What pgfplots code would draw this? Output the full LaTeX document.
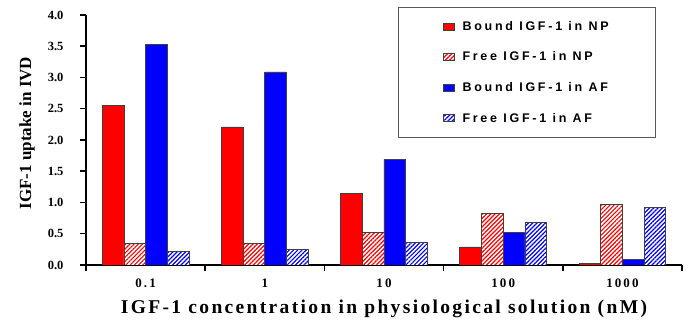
\documentclass[border=0pt]{standalone}
\usepackage{pgfplots}
\pgfplotsset{compat=1.18}
\usetikzlibrary{patterns.meta}
\usepackage{fontspec}
\setmainfont{Liberation Serif}
\newfontfamily\legfont{Liberation Sans}[LetterSpace=22]
\newfontfamily\xtickfont{Liberation Serif}[LetterSpace=16]
\newfontfamily\labfont{Liberation Serif}[LetterSpace=12]
\begin{document}
\begin{tikzpicture}
\useasboundingbox (-86pt,-58pt) rectangle (605pt,265pt);
\begin{axis}[
  at={(0,0)}, anchor=south west,
  scale only axis, width=596pt, height=250pt,
  xmin=-0.5, xmax=4.5, ymin=0, ymax=4,
  axis x line*=bottom, axis y line*=left,
  axis line style={line width=1.5pt, -},
  ybar=0pt, bar width=21.7pt,
  xtick={0,1,2,3,4}, xticklabels={0.1,1,10,100,1000},
  major x tick style={draw=none},
  minor xtick={-0.5,0.5,1.5,2.5,3.5,4.5},
  minor x tick style={line width=1.5pt, black},
  minor tick length=6pt,
  ytick={0,0.5,...,4},
  y tick style={line width=1.5pt, black},
  major tick length=6pt,
  tick align=outside,
  yticklabel style={font=\bfseries\fontsize{12.5}{13}\selectfont, xshift=-13pt, /pgf/number format/fixed, /pgf/number format/fixed zerofill, /pgf/number format/precision=1, /pgf/number format/assume math mode=true},
  xticklabel style={font=\xtickfont\bfseries\fontsize{13}{13}\selectfont, yshift=-4pt},
  xlabel={IGF-1 concentration in physiological solution (nM)},
  ylabel={IGF-1 uptake in IVD},
  xlabel style={font=\labfont\bfseries\fontsize{19.5}{20}\selectfont, at={(axis description cs:0.5,-0.176)}, anchor=center},
  ylabel style={font=\bfseries\fontsize{17}{20}\selectfont, at={(axis description cs:-0.099,0.528)}, anchor=center},
  legend style={at={(rel axis cs:0.523,1.032)}, anchor=north west, draw=gray!70!black, line width=0.6pt,
    font=\legfont\bfseries\fontsize{12.5}{12.5}\selectfont, inner xsep=45pt, inner ysep=12pt, row sep=16pt,
    /tikz/every odd column/.append style={column sep=6pt}},
  legend cell align=left,
  legend image code/.code={\draw[#1, line width=0.5pt] (0pt,-3.5pt) rectangle (11pt,3.5pt);},
]
\addplot[fill=red, draw=gray!50!black, line width=0.7pt] coordinates {(0,2.55) (1,2.21) (2,1.15) (3,0.29) (4,0.03)};
\addplot[fill=white, draw=gray!50!black, line width=0.7pt, postaction={pattern={Lines[angle=45,distance=3pt,line width=1.2pt]}, pattern color=red}] coordinates {(0,0.34) (1,0.34) (2,0.52) (3,0.82) (4,0.97)};
\addplot[fill=blue, draw=gray!50!black, line width=0.7pt] coordinates {(0,3.53) (1,3.09) (2,1.69) (3,0.52) (4,0.09)};
\addplot[fill=white, draw=gray!50!black, line width=0.7pt, postaction={pattern={Lines[angle=45,distance=3pt,line width=1.2pt]}, pattern color=blue}] coordinates {(0,0.22) (1,0.245) (2,0.36) (3,0.68) (4,0.92)};
\legend{Bound IGF-1 in NP, Free IGF-1 in NP, Bound IGF-1 in AF, Free IGF-1 in AF}
\end{axis}
\end{tikzpicture}
\end{document}
